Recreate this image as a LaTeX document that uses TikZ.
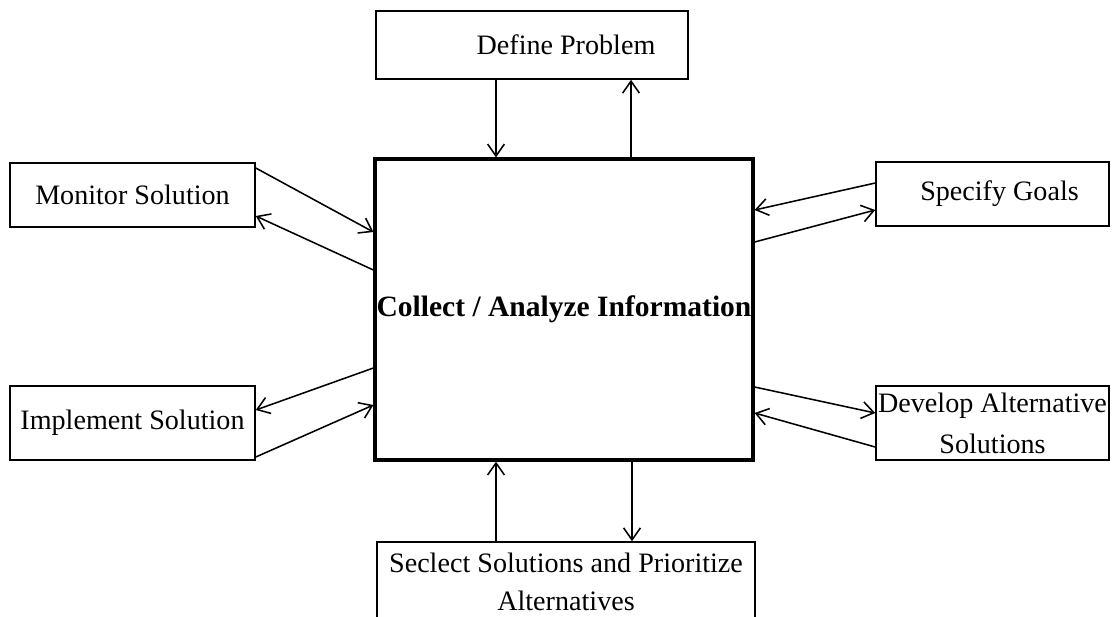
\documentclass[tikz,border=0pt]{standalone}
\usepackage{fontspec}
\setmainfont{Liberation Serif}
\usetikzlibrary{arrows.meta}

\tikzset{
  box/.style={draw, line width=1.1pt, inner sep=0pt, align=center,
    font=\fontsize{20}{29}\selectfont},
  hub/.style={box, line width=2.3pt, font=\fontsize{21}{29}\selectfont\bfseries},
  flow/.style={line width=1.1pt, -{Straight Barb[length=3mm,width=4.2mm]}}
}

\begin{document}
\begin{tikzpicture}[x=0.25mm, y=-0.25mm]
\clip (0,0) rectangle (1112,616);

\draw (532,45) node[box, minimum width=78mm, minimum height=17mm] (define) {\hspace*{17mm}Define Problem} ;

\draw (564,309.5) node[hub, minimum width=94.5mm, minimum height=75.25mm] (core) {Collect / Analyze Information} ;

\draw (132.5,195) node[box, minimum width=61.25mm, minimum height=16mm] (monitor) {Monitor Solution} ;
\draw (992.5,194) node[box, minimum width=58.25mm, minimum height=16mm] (goals) {\hspace*{3.5mm}Specify Goals} ;

\draw (132.5,423) node[box, minimum width=61.25mm, minimum height=18.5mm] (implement) {Implement Solution} ;
\draw (992.5,423) node[box, minimum width=58.25mm, minimum height=18.5mm] (develop) {Develop Alternative\\Solutions} ;

\draw (566,582) node[box, minimum width=94.5mm, minimum height=20mm, font=\fontsize{20}{27}\selectfont] (select) {Seclect Solutions and Prioritize\\Alternatives} ;

% paired arrows between the hub and each step
\path[flow]
      (define.south -| 496,0) edge (core.north -| 496,0)
      (core.north -| 631,0) edge (define.south -| 631,0)

      (monitor.east |- 0,168) edge (core.west |- 0,232)
      (core.west |- 0,270) edge (monitor.east |- 0,216)

      (goals.west |- 0,183) edge (core.east |- 0,210)
      (core.east |- 0,242) edge (goals.west |- 0,210)

      (core.west |- 0,368) edge (implement.east |- 0,410)
      (implement.east |- 0,457) edge (core.west |- 0,405)

      (core.east |- 0,387) edge (develop.west |- 0,413)
      (develop.west |- 0,447) edge (core.east |- 0,413)

      (select.north -| 496,0) edge (core.south -| 496,0)
      (core.south -| 632,0) edge (select.north -| 632,0) ;
\end{tikzpicture}
\end{document}
